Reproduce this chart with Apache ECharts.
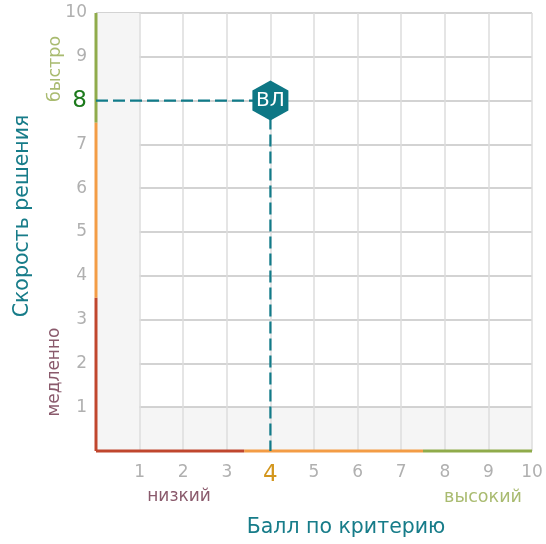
<!DOCTYPE html>
<html>
<head>
<meta charset="utf-8">
<script src="https://cdn.jsdelivr.net/npm/echarts@6/dist/echarts.min.js"></script>
<style>html,body{margin:0;padding:0;background:#fff}#c{width:546px;height:544px}</style>
</head>
<body>
<div id="c"></div>
<script>
// Data
var pointLabel = 'ВЛ';
var pointValue = [4, 8];
var xTicks = [0, 1, 2, 3, 4, 5, 6, 7, 8, 9, 10];
var yTicks = [0, 1, 2, 3, 4, 5, 6, 7, 8, 9, 10];
var xBands = [[0, 3.4, 'red'], [3.4, 7.5, 'orange'], [7.5, 10, 'green']];
var yBands = [[0, 3.5, 'red'], [3.5, 7.5, 'orange'], [7.5, 10, 'green']];
var xName = 'Балл по критерию';
var yName = 'Скорость решения';
var xLow = 'низкий', xHigh = 'высокий';
var yLow = 'медленно', yHigh = 'быстро';

var bandColors = { red: '#c0462e', orange: '#f39c45', green: '#8fab4b' };
var FONT = 'DejaVu Sans';
var chart = echarts.init(document.getElementById('c'));

var series = [];
xBands.forEach(function (b) {
  series.push({
    type: 'line', data: [[b[0], 0], [b[1], 0]], symbol: 'none', clip: false, silent: true,
    lineStyle: { color: bandColors[b[2]], width: 3 }, z: 3
  });
});
yBands.forEach(function (b) {
  series.push({
    type: 'line', data: [[0, b[0]], [0, b[1]]], symbol: 'none', clip: false, silent: true,
    lineStyle: { color: bandColors[b[2]], width: 3 }, z: 3
  });
});
// guide lines
series.push({
  type: 'line', data: [[0, pointValue[1]], [pointValue[0], pointValue[1]]], symbol: 'none',
  lineStyle: { color: '#117b89', width: 2.2, type: [12, 5] }, z: 4, silent: true
});
series.push({
  type: 'line', data: [[pointValue[0], pointValue[1]], [pointValue[0], 0]], symbol: 'none',
  lineStyle: { color: '#117b89', width: 2.2, type: [12, 5] }, z: 4, silent: true
});
series.push({
  type: 'scatter',
  data: [{ value: pointValue, name: pointLabel }],
  symbol: 'path://M0,-1 L0.866,-0.5 L0.866,0.5 L0,1 L-0.866,0.5 L-0.866,-0.5 Z',
  symbolSize: [36, 40],
  itemStyle: { color: '#0e7785', opacity: 1 },
  label: { show: true, position: 'inside', formatter: '{b}', color: '#fff', fontSize: 20, fontFamily: FONT },
  z: 5
});

var gridL = 96, gridT = 13, gridW = 436, gridH = 438;
var clear = 'rgba(0,0,0,0)';

chart.setOption({
  animation: false,
  grid: { left: gridL, top: gridT, width: gridW, height: gridH },
  xAxis: {
    type: 'value', min: 0, max: 10, interval: 1,
    axisLine: { show: false }, axisTick: { show: false },
    axisLabel: {
      margin: 13, color: '#b0b0b0', fontSize: 17, fontFamily: FONT,
      formatter: function (v) { return v === 0 ? '' : (v === pointValue[0] ? '{hl|' + v + '}' : '' + v); },
      rich: { hl: { color: '#d3961d', fontSize: 23, fontFamily: FONT } }
    },
    splitLine: { show: true, lineStyle: { color: '#dcdcdc', width: 1.5 } },
    splitArea: { show: true, areaStyle: { color: ['#f5f5f5', clear, clear, clear, clear, clear, clear, clear, clear, clear] } }
  },
  yAxis: {
    type: 'value', min: 0, max: 10, interval: 1,
    axisLine: { show: false }, axisTick: { show: false },
    axisLabel: {
      margin: 9, color: '#b0b0b0', fontSize: 17, fontFamily: FONT,
      formatter: function (v) { return v === 0 ? '' : (v === pointValue[1] ? '{hl|' + v + '}' : '' + v); },
      rich: { hl: { color: '#1c7a1c', fontSize: 23, fontFamily: FONT } }
    },
    splitLine: { show: true, lineStyle: { color: '#c4c4c4', width: 1.5 } },
    splitArea: { show: true, areaStyle: { color: ['#f5f5f5', clear, clear, clear, clear, clear, clear, clear, clear, clear] } }
  },
  graphic: [
    { type: 'text', x: 346, y: 528, style: { text: xName, fill: '#177c89', fontSize: 20.5, fontFamily: FONT, align: 'center', verticalAlign: 'middle' } },
    { type: 'text', x: 23, y: 216, rotation: Math.PI / 2, style: { text: yName, fill: '#177c89', fontSize: 20.5, fontFamily: FONT, align: 'center', verticalAlign: 'middle' } },
    { type: 'text', x: 179, y: 497, style: { text: xLow, fill: '#8a5a6c', fontSize: 17, fontFamily: FONT, align: 'center', verticalAlign: 'middle' } },
    { type: 'text', x: 483, y: 497, style: { text: xHigh, fill: '#a9bb70', fontSize: 17.5, fontFamily: FONT, align: 'center', verticalAlign: 'middle' } },
    { type: 'text', x: 55, y: 69, rotation: Math.PI / 2, style: { text: yHigh, fill: '#a9bb70', fontSize: 17.5, fontFamily: FONT, align: 'center', verticalAlign: 'middle' } },
    { type: 'text', x: 55, y: 372, rotation: Math.PI / 2, style: { text: yLow, fill: '#8a5a6c', fontSize: 17, fontFamily: FONT, align: 'center', verticalAlign: 'middle' } }
  ],
  series: series
});
</script>
</body>
</html>
